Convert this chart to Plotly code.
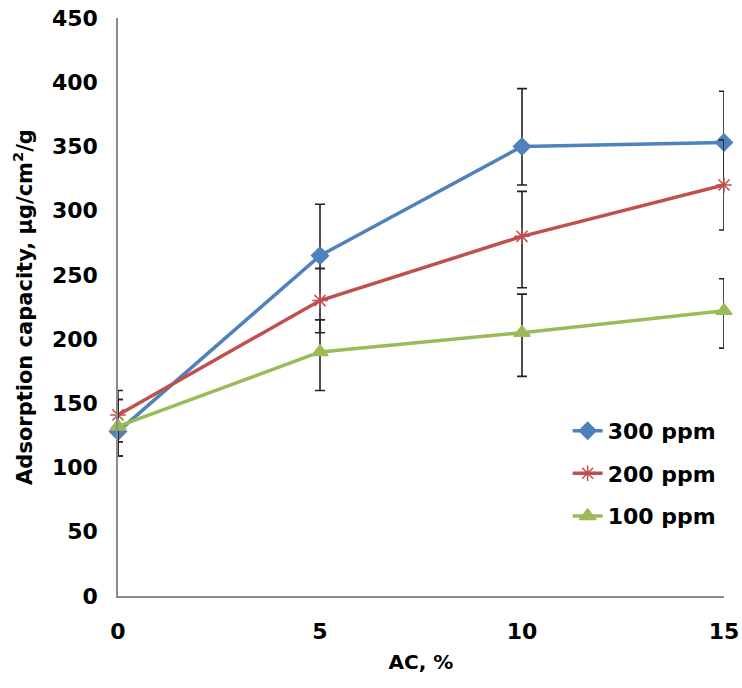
import plotly.graph_objects as go

ac = [0, 5, 10, 15]
series_names = ["300 ppm", "200 ppm", "100 ppm"]
y300 = [128, 265, 350, 353]
e300_plus = [25, 40, 45, 40]
e300_minus = [19, 10, 30, 33]
y200 = [141, 230, 280, 320]
e200_plus = [19, 25, 35, 35]
e200_minus = [21, 25, 40, 35]
y100 = [132, 190, 205, 222]
e100_plus = [21, 25, 30, 25]
e100_minus = [23, 30, 34, 29]
y_ticks = [0, 50, 100, 150, 200, 250, 300, 350, 400, 450]
x_ticks = [0, 5, 10, 15]

colors = ["#4F81BD", "#C0504D", "#9BBB59"]
symbols = ["diamond", "asterisk-open", "triangle-up"]
msizes = [13, 13, 14]
data = [(y300, e300_plus, e300_minus), (y200, e200_plus, e200_minus), (y100, e100_plus, e100_minus)]

fig = go.Figure()
for i, (name, (yv, ep, em), c, s, ms) in enumerate(zip(series_names, data, colors, symbols, msizes)):
    fig.add_trace(go.Scatter(
        x=ac, y=yv, name=name, mode="lines+markers", legendgroup=f"g{i}",
        line=dict(color=c, width=3.5),
        marker=dict(symbol=s, size=ms, color=c, line=dict(color=c, width=1.5)),
        error_y=dict(type="data", symmetric=False, array=ep, arrayminus=em,
                     color="#222222", thickness=1.6, width=5),
        cliponaxis=False,
    ))

font_family = "DejaVu Sans, sans-serif"
fig.update_layout(
    width=742, height=688,
    margin=dict(l=118, r=18, t=18, b=92),
    paper_bgcolor="white", plot_bgcolor="white",
    font=dict(family=font_family, size=18, color="#000000"),
    showlegend=True,
    legend=dict(x=0.742, y=0.322, xanchor="left", yanchor="top",
                font=dict(size=22, family=font_family, weight="bold"),
                bgcolor="rgba(0,0,0,0)", traceorder="grouped", tracegroupgap=11),
    xaxis=dict(range=[0, 15], tickvals=x_ticks, ticktext=[str(t) for t in x_ticks],
               showgrid=False, zeroline=False, showline=True, linecolor="#8c8c8c", linewidth=1.5,
               ticks="", tickfont=dict(size=22, family=font_family, weight="bold"),
               ticklabelstandoff=15, automargin=False,
               title=dict(text="AC, %", font=dict(size=20, family=font_family, weight="bold"), standoff=12)),
    yaxis=dict(range=[0, 450], tickvals=y_ticks, ticktext=[str(t) for t in y_ticks],
               showgrid=False, zeroline=False, showline=True, linecolor="#8c8c8c", linewidth=1.5,
               ticks="", tickfont=dict(size=22, family=font_family, weight="bold"),
               ticklabelstandoff=14, automargin=False,
               title=dict(text="Adsorption capacity, μg/cm<sup>2</sup>/g",
                          font=dict(size=21, family=font_family, weight="bold"), standoff=14)),
)

fig.write_html("out.html")
